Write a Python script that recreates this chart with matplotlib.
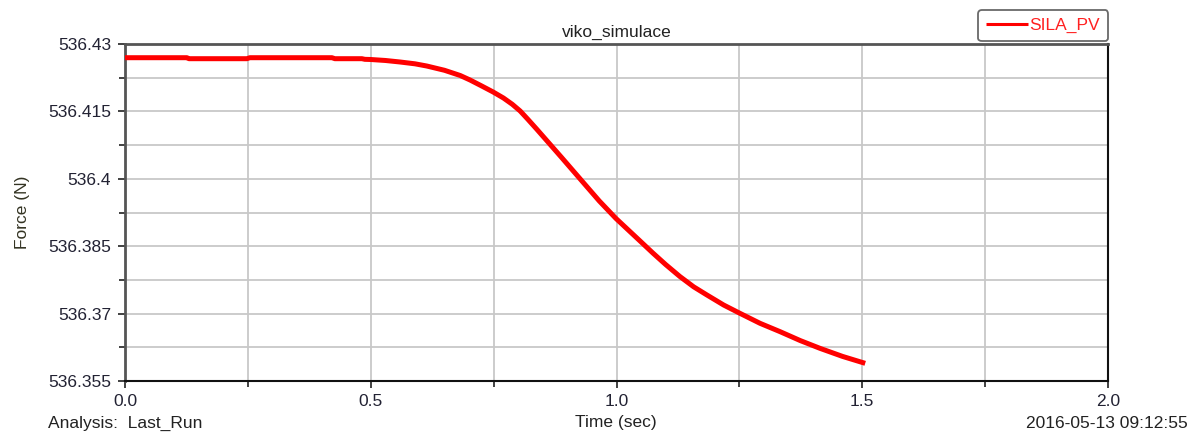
import matplotlib
matplotlib.use("Agg")
import matplotlib.pyplot as plt
from matplotlib.ticker import FixedLocator, MultipleLocator

plt.rcParams['font.family'] = ['Liberation Sans', 'DejaVu Sans']

# SILA_PV force response
time_sec = [0.0, 0.06, 0.126, 0.13, 0.19, 0.248, 0.254, 0.33, 0.421, 0.427, 0.482,
            0.488, 0.5, 0.53, 0.56, 0.59, 0.614, 0.65, 0.682, 0.702, 0.725, 0.749,
            0.770, 0.788, 0.804, 0.820, 0.838, 0.871, 0.888, 0.910, 0.932, 0.965,
            0.999, 1.048, 1.074, 1.10, 1.129, 1.157, 1.184, 1.218, 1.251, 1.292,
            1.333, 1.374, 1.414, 1.46, 1.506]
force_n = [536.42695, 536.42695, 536.42695, 536.42673, 536.42673, 536.42673,
           536.42695, 536.42695, 536.42695, 536.42673, 536.42673, 536.42659,
           536.42655, 536.42633, 536.42599, 536.42559, 536.42510, 536.42415,
           536.42299, 536.42199, 536.42070, 536.41932, 536.41798, 536.41658,
           536.41509, 536.41320, 536.41101, 536.40690, 536.40478, 536.40200,
           536.39922, 536.39506, 536.39116, 536.38615, 536.38348, 536.38092,
           536.37825, 536.37596, 536.37414, 536.37191, 536.37007, 536.36784,
           536.36597, 536.36399, 536.36227, 536.36047, 536.35893]

x_ticks = [0.0, 0.5, 1.0, 1.5, 2.0]
x_tick_labels = ["0.0", "0.5", "1.0", "1.5", "2.0"]
y_ticks = [536.355, 536.37, 536.385, 536.4, 536.415, 536.43]
y_tick_labels = ["536.355", "536.37", "536.385", "536.4", "536.415", "536.43"]

title = "viko_simulace"
series_name = "SILA_PV"

fig = plt.figure(figsize=(11.92, 4.32), dpi=100)
ax = fig.add_axes([125 / 1192, 51 / 432, 983 / 1192, 337 / 432])

ax.plot(time_sec, force_n, color="#ff0000", lw=3.6, solid_capstyle="butt",
        solid_joinstyle="round", label=series_name, zorder=3)

ax.set_xlim(0.0, 2.0)
ax.set_ylim(536.355, 536.43)

ax.xaxis.set_major_locator(FixedLocator(x_ticks))
ax.set_xticklabels(x_tick_labels)
ax.xaxis.set_minor_locator(MultipleLocator(0.25))
ax.yaxis.set_major_locator(FixedLocator(y_ticks))
ax.set_yticklabels(y_tick_labels)
ax.yaxis.set_minor_locator(MultipleLocator(0.0075))

ax.grid(True, which="both", color="#c8c8c8", lw=1.3, zorder=0)
ax.set_axisbelow(True)

ax.tick_params(axis="both", which="major", direction="out", length=5, width=1.3,
               color="#333333", labelsize=12.5, labelcolor="#222233", pad=4)
ax.tick_params(axis="both", which="minor", direction="out", length=4, width=1.3,
               color="#333333")
ax.tick_params(axis="y", which="major", pad=5)

for side in ["left", "top"]:
    ax.spines[side].set_color("#555555")
    ax.spines[side].set_linewidth(2)
for side in ["right", "bottom"]:
    ax.spines[side].set_color("#111111")
    ax.spines[side].set_linewidth(1.5)

ax.set_title(title, fontsize=12.5, color="#222222", pad=5)
ax.set_ylabel("Force (N)", fontsize=12.5, color="#333322", labelpad=13)

leg = ax.legend(loc="lower right", bbox_to_anchor=(1.0, 1.008), fontsize=12.5,
                frameon=True, fancybox=True, handlelength=2.4, handletextpad=0.1,
                borderpad=0.45, borderaxespad=0.0)
leg.get_frame().set_edgecolor("#444444")
leg.get_frame().set_linewidth(1.3)
leg.get_frame().set_boxstyle("round,pad=0.0,rounding_size=0.2")
for txt in leg.get_texts():
    txt.set_color("#ff2020")
for line in leg.get_lines():
    line.set_linewidth(2.2)

fig.text(48 / 1192, 1 - 423 / 432, "Analysis:  Last_Run", fontsize=12.5,
         color="#222222", ha="left", va="center")
fig.text(616 / 1192, 1 - 423 / 432, "Time (sec)", fontsize=12.5,
         color="#222222", ha="center", va="center")
fig.text(1188 / 1192, 1 - 423 / 432, "2016-05-13 09:12:55", fontsize=12.5,
         color="#222222", ha="right", va="center")

fig.savefig("out.png", dpi=100, facecolor="white")
